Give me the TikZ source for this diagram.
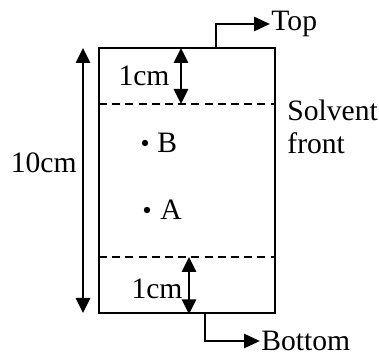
\documentclass[tikz,border=0pt]{standalone}
\usepackage{fontspec}
\setmainfont{Liberation Serif}
\usetikzlibrary{arrows.meta,positioning,calc}

\begin{document}
\begin{tikzpicture}[x=0.5pt, y=-0.5pt, line width=1.4pt, every node/.style={font=\fontsize{14.8}{16.5}\selectfont, inner sep=0pt}]
    \useasboundingbox (0,0) rectangle (379,356);
    \tikzset{tip/.style={-{Triangle[length=8pt,width=7pt]}}, twotip/.style={{Triangle[length=7.5pt,width=7pt]}-{Triangle[length=7.5pt,width=7pt]}}, frontline/.style={dash pattern=on 4pt off 2.6pt}}
    % the plate
    \node[draw, minimum width=88pt, minimum height=132.5pt, inner sep=0pt] (plate) at (187,180.5) {};
    \coordinate (upL) at (99,104);
    \coordinate (upR) at (275,104);
    \coordinate (lowL) at (99,257);
    \coordinate (lowR) at (275,257);
    \draw[frontline] (upL) -- (upR);
    \draw[frontline] (lowL) -- (lowR);
    % spots
    \fill (145,143) circle (3.2) coordinate (spotB);
    \fill (147,210) circle (3.2) coordinate (spotA);
    \node[anchor=west] (labB) at (156,143) {B};
    \node[anchor=west] (labA) at (159,210) {A};
    % top and bottom
    \coordinate (topout) at (216,48);
    \coordinate (botout) at (205,313);
    \node[anchor=west] (top) at (270,24) {Top};
    \node[anchor=west] (bottom) at (260,341) {Bottom};
    \draw[tip] (topout) |- (top.west);
    \draw[tip] (botout) |- (bottom.west);
    % 1cm marks
    \draw[twotip] (181,48) coordinate (m1a) -- (upL -| m1a);
    \draw[twotip] (189,257) coordinate (m2a) -- (plate.south -| m2a);
    \node (one1) at (144,76) {1cm};
    \node (one2) at (157,289) {1cm};
    % whole length
    \draw[twotip] (83,48) coordinate (lenA) -- (83,313) coordinate (lenB);
    \node[anchor=east] (ten) at (78,163) {10cm};
    \node[anchor=west, align=left] (front) at (286,127) {Solvent\\front};
\end{tikzpicture}
\end{document}
